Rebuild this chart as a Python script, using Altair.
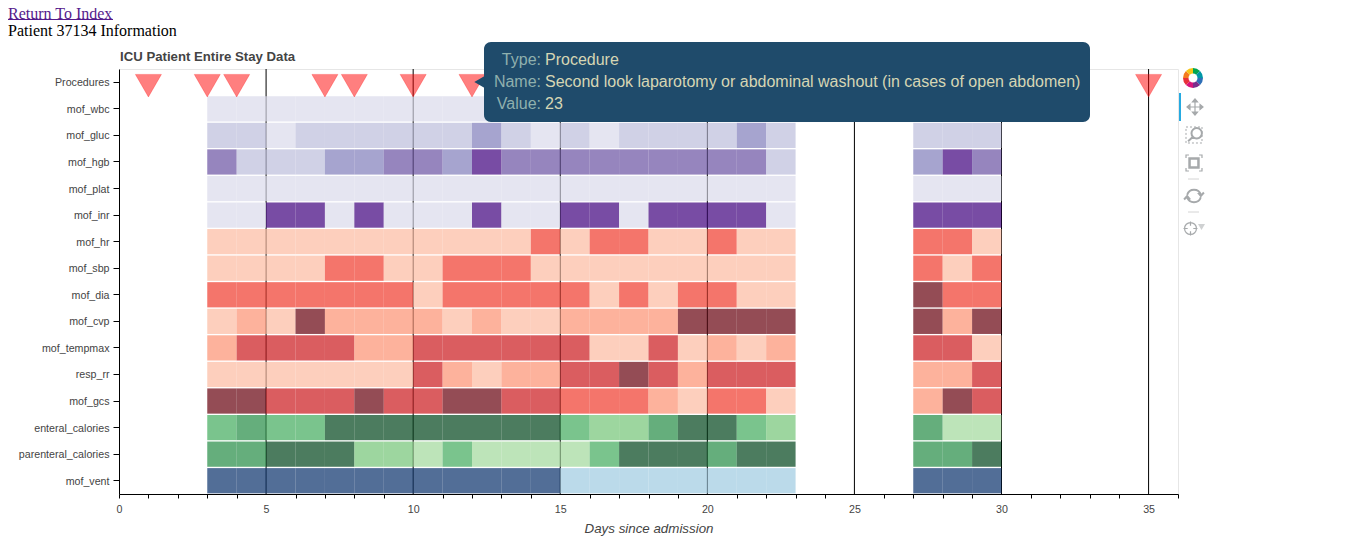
import altair as alt
import pandas as pd

PURPLES = ["#dadaeb", "#bcbddc", "#807dba", "#6a51a3", "#3f007d"]
REDS = ["#fcbba1", "#fc9272", "#ef3b2c", "#cb181d", "#67000d"]
GREENS = ["#a1d99b", "#74c476", "#41ab5d", "#238b45", "#00441b"]
BLUES = ["#9ecae1", "#08306b"]

days = [3, 4, 5, 6, 7, 8, 9, 10, 11, 12, 13, 14, 15, 16, 17, 18, 19, 20, 21, 22, 27, 28, 29]
categories = ["Procedures", "mof_wbc", "mof_gluc", "mof_hgb", "mof_plat", "mof_inr", "mof_hr", "mof_sbp",
              "mof_dia", "mof_cvp", "mof_tempmax", "resp_rr", "mof_gcs", "enteral_calories",
              "parenteral_calories", "mof_vent"]
procedure_days = [1, 3, 4, 7, 8, 10, 12, 35]

mof_wbc = [0] * 23
mof_gluc = [1, 1, 0, 1, 1, 1, 1, 1, 1, 2, 1, 0, 1, 0, 1, 1, 1, 1, 2, 1, 1, 1, 1]
mof_hgb = [3, 1, 1, 1, 2, 2, 3, 3, 2, 4, 3, 3, 3, 3, 3, 3, 3, 3, 3, 1, 2, 4, 3]
mof_plat = [0] * 23
mof_inr = [0, 0, 4, 4, 0, 4, 0, 0, 0, 4, 0, 0, 4, 4, 0, 4, 4, 4, 4, 0, 4, 4, 4]
mof_hr = [0, 0, 0, 0, 0, 0, 0, 0, 0, 0, 0, 2, 0, 2, 2, 0, 0, 2, 0, 0, 2, 2, 0]
mof_sbp = [0, 0, 0, 0, 2, 2, 0, 0, 2, 2, 2, 0, 0, 0, 0, 0, 0, 0, 0, 0, 2, 0, 2]
mof_dia = [2, 2, 2, 2, 2, 2, 2, 0, 2, 2, 2, 2, 2, 0, 2, 0, 2, 2, 0, 0, 4, 2, 2]
mof_cvp = [0, 1, 0, 4, 1, 1, 1, 1, 0, 1, 0, 0, 1, 1, 1, 1, 4, 4, 4, 4, 4, 1, 4]
mof_tempmax = [1, 3, 3, 3, 3, 1, 1, 3, 3, 3, 3, 3, 3, 0, 0, 3, 0, 1, 0, 1, 3, 3, 0]
resp_rr = [0, 0, 0, 0, 0, 0, 0, 3, 1, 0, 1, 1, 3, 3, 4, 3, 1, 3, 3, 3, 1, 1, 3]
mof_gcs = [4, 4, 3, 3, 3, 4, 3, 3, 4, 4, 3, 3, 2, 2, 2, 1, 0, 2, 2, 0, 1, 4, 3]
enteral_calories = [2, 3, 2, 2, 4, 4, 4, 4, 4, 4, 4, 4, 2, 1, 1, 3, 4, 4, 2, 1, 3, 0, 0]
parenteral_calories = [3, 3, 4, 4, 4, 1, 1, 0, 2, 0, 0, 0, 0, 2, 4, 4, 4, 3, 4, 4, 3, 3, 4]
mof_vent = [1, 1, 1, 1, 1, 1, 1, 1, 1, 1, 1, 1, 0, 0, 0, 0, 0, 0, 0, 0, 1, 1, 1]

rows = [
    ("mof_wbc", mof_wbc, "P"), ("mof_gluc", mof_gluc, "P"), ("mof_hgb", mof_hgb, "P"),
    ("mof_plat", mof_plat, "P"), ("mof_inr", mof_inr, "P"), ("mof_hr", mof_hr, "R"),
    ("mof_sbp", mof_sbp, "R"), ("mof_dia", mof_dia, "R"), ("mof_cvp", mof_cvp, "R"),
    ("mof_tempmax", mof_tempmax, "R"), ("resp_rr", resp_rr, "R"), ("mof_gcs", mof_gcs, "R"),
    ("enteral_calories", enteral_calories, "G"), ("parenteral_calories", parenteral_calories, "G"),
    ("mof_vent", mof_vent, "B"),
]
cells = pd.DataFrame([
    {"cat": name, "start": d, "end": d + 1, "level": f"{fam}{v}"}
    for name, vals, fam in rows for d, v in zip(days, vals)
])

palette = {"P": PURPLES, "R": REDS, "G": GREENS, "B": BLUES}
color_domain = [f"{k}{i}" for k, pal in palette.items() for i in range(len(pal))]
color_range = [c for pal in palette.values() for c in pal]

TEXT = "#444444"
FONT = "Liberation Sans"
GREY = "#a6a9ab"

x_scale = alt.Scale(domain=[0, 36], nice=False, zero=False)
y_scale = alt.Scale(domain=categories, paddingInner=0.05, paddingOuter=0.025)

x_axis = alt.Axis(
    values=list(range(37)), labelExpr="datum.value % 5 == 0 ? datum.label : ''", labelOverlap=False,
    labelFlush=False, grid=False, tickColor="black", domainColor="black", tickSize=4,
    tickOpacity={"condition": {"test": "datum.value % 5 == 0 && datum.value > 0", "value": 0}, "value": 1},
    labelColor=TEXT, labelFont=FONT, labelFontSize=10.67, labelPadding=6.5, title="Days since admission",
    titleFont=FONT, titleFontSize=13.33, titleFontStyle="italic", titleFontWeight="normal", titleColor=TEXT,
    titlePadding=7.5, zindex=1,
)
y_axis = alt.Axis(
    title=None, grid=False, tickColor="black", domainColor="black", tickSize=6, labelColor=TEXT,
    labelFont=FONT, labelFontSize=10.67, labelPadding=4, labelOffset=1, zindex=1,
)

grid = alt.Chart(pd.DataFrame({"d": [5, 10, 15, 20, 25, 30, 35]})).mark_rule(color="black", strokeWidth=1).encode(
    x=alt.X("d:Q", scale=x_scale, axis=x_axis)
)
bars = alt.Chart(cells).mark_rect(opacity=0.7).encode(
    x=alt.X("start:Q", scale=x_scale, axis=x_axis),
    x2="end:Q",
    y=alt.Y("cat:N", scale=y_scale, axis=y_axis, sort=categories),
    color=alt.Color("level:N", scale=alt.Scale(domain=color_domain, range=color_range), legend=None),
)
procs = pd.DataFrame({"d": procedure_days, "cat": "Procedures"})
triangles = alt.Chart(procs).mark_point(
    shape="triangle-down", size=676, filled=True, fill="#ff0000", fillOpacity=0.5,
    stroke="#ff0000", strokeOpacity=0.25, strokeWidth=1,
).encode(
    x=alt.X("d:Q", scale=x_scale, axis=x_axis),
    y=alt.Y("cat:N", scale=y_scale, sort=categories, axis=y_axis),
    yOffset=alt.value(16),
)


def pos(x):
    return x - 119.0


def top(y):
    return y - 69.0


def note(text, px, py, **kw):
    return alt.Chart(pd.DataFrame({"t": [text]})).mark_text(**kw).encode(
        text="t:N", x=alt.value(pos(px)), y=alt.value(top(py))
    )


serif = dict(font="Liberation Serif", fontSize=16, align="left", baseline="middle")
head1 = note("Return To Index", 8, 14, color="#551a8b", **serif)
underline = alt.Chart(pd.DataFrame({"a": [0]})).mark_rule(color="#551a8b", strokeWidth=1).encode(
    x=alt.value(pos(8)), x2=alt.value(pos(113)), y=alt.value(top(19.5))
)
head2 = note("Patient 37134 Information", 8, 31, color="black", **serif)
title = note("ICU Patient Entire Stay Data", 120, 57, font=FONT, fontSize=13.2, fontWeight="bold",
             color=TEXT, align="left", baseline="middle")

# hover tooltip
TIP = "#1f4b6b"
tip_box = alt.Chart(pd.DataFrame({"a": [0]})).mark_rect(color=TIP, cornerRadius=7).encode(
    x=alt.value(pos(484)), x2=alt.value(pos(1090)), y=alt.value(top(42)), y2=alt.value(top(122))
)
tip_arrow = alt.Chart(pd.DataFrame({"a": [0]})).mark_point(
    shape="triangle-left", size=144, filled=True, fill=TIP, opacity=1
).encode(x=alt.value(pos(479.5)), y=alt.value(top(82)))

tip_labels = ["Type:", "Name:", "Value:"]
tip_values = ["Procedure", "Second look laparotomy or abdominal washout (in cases of open abdomen)", "23"]
tip_y = [60, 82, 104]
tip_layers = []
for lab, val, yy in zip(tip_labels, tip_values, tip_y):
    tip_layers.append(note(lab, 541, yy, font=FONT, fontSize=16, color="#8fb0ae", align="right", baseline="middle"))
    tip_layers.append(note(val, 545, yy, font=FONT, fontSize=16, color="#d6d6b4", align="left", baseline="middle"))

# toolbar
logo_colors = ["#00a651", "#0097a7", "#2e6fb7", "#7b2d8b", "#d6147c", "#e8303a", "#f47c20", "#f5c518"]
logo = pd.DataFrame({"t0": [i * 0.7854 for i in range(8)], "t1": [(i + 1) * 0.7854 for i in range(8)], "c": logo_colors})
logo_mark = alt.Chart(logo).mark_arc(radius=10, radius2=4.5).encode(
    theta=alt.Theta("t0:Q", scale=None), theta2="t1:Q", color=alt.Color("c:N", scale=None),
    x=alt.value(pos(1193)), y=alt.value(top(78))
)
active = alt.Chart(pd.DataFrame({"a": [0]})).mark_rule(color="#26aae1", strokeWidth=2).encode(
    x=alt.value(pos(1180)), y=alt.value(top(93)), y2=alt.value(top(121))
)


def icon(path, px, py, size=283, filled=False, **kw):
    return alt.Chart(pd.DataFrame({"a": [0]})).mark_point(
        shape=path, size=size, filled=filled, stroke=GREY, strokeWidth=kw.pop("strokeWidth", 2), opacity=1,
        fill=GREY if filled else "transparent", **kw
    ).encode(x=alt.value(pos(px)), y=alt.value(top(py)))


pan = icon("M-0.85,0 L0.85,0 M0,-0.85 L0,0.85 M-0.95,0 L-0.6,-0.3 L-0.6,0.3 Z M0.95,0 L0.6,-0.3 L0.6,0.3 Z "
           "M0,-0.95 L-0.3,-0.6 L0.3,-0.6 Z M0,0.95 L-0.3,0.6 L0.3,0.6 Z", 1195, 107, filled=True, strokeWidth=1.2)
box_a = icon("M-0.95,-0.95 L0.95,-0.95 L0.95,0.95 L-0.95,0.95 Z", 1194, 135, strokeWidth=1, strokeDash=[2, 2])
box_b = icon("M-0.3,-0.2 A0.62,0.62 0 1 1 0.94,-0.2 A0.62,0.62 0 1 1 -0.3,-0.2 Z M-0.15,0.25 L-0.7,0.75", 1194, 135,
             strokeWidth=2)
extent_a = icon("M-0.53,-0.53 L0.53,-0.53 L0.53,0.53 L-0.53,0.53 Z", 1194, 163, strokeWidth=2.5)
extent_b = icon("M-0.95,-0.6 L-0.95,-0.95 L-0.6,-0.95 M0.6,-0.95 L0.95,-0.95 L0.95,-0.6 M0.95,0.6 L0.95,0.95 L0.6,0.95 "
                "M-0.6,0.95 L-0.95,0.95 L-0.95,0.6", 1194, 163, strokeWidth=1.2)
reset = icon("M-0.62,-0.12 A0.65,0.65 0 0 1 0.62,-0.12 M0.9,-0.32 L0.62,0 L0.35,-0.32 "
             "M0.62,0.12 A0.65,0.65 0 0 1 -0.62,0.12 M-0.9,0.32 L-0.62,0 L-0.35,0.32", 1194, 196, size=484, strokeWidth=2)
cross = icon("M-0.85,0 A0.85,0.85 0 1 1 0.85,0 A0.85,0.85 0 1 1 -0.85,0 Z M-1,0 L-0.4,0 M0.4,0 L1,0 M0,-1 L0,-0.4 "
             "M0,0.4 L0,1", 1190.5, 228.5, size=196, strokeWidth=1.2)
drop = alt.Chart(pd.DataFrame({"a": [0]})).mark_point(
    shape="triangle-down", size=49, filled=True, fill="#cfd1d2", opacity=1
).encode(x=alt.value(pos(1201.5)), y=alt.value(top(227)))
seps = [
    alt.Chart(pd.DataFrame({"a": [0]})).mark_rule(color="#d4d4d4", strokeWidth=1).encode(
        x=alt.value(pos(1188)), x2=alt.value(pos(1199)), y=alt.value(top(yy))
    ) for yy in (179, 212)
]

chart = alt.layer(
    grid, bars, triangles, head1, underline, head2, title, tip_box, tip_arrow, *tip_layers,
    logo_mark, active, pan, box_a, box_b, extent_a, extent_b, reset, cross, drop, *seps,
).resolve_scale(color="independent", theta="independent").properties(
    width=1059, height=425, background="white",
    padding={"left": 111, "top": 61, "right": 60, "bottom": 50},
    autosize=alt.AutoSizeParams(type="none"),
    view=alt.ViewConfig(stroke="#e6e6e6"),
)

chart.save("out.html", embed_options={"renderer": "svg", "actions": False})
